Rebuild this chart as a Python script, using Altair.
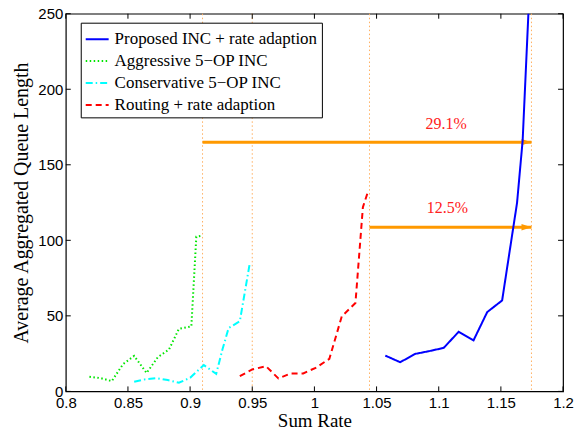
import altair as alt
import pandas as pd

# ---- data ----
series_names = ["Proposed INC + rate adaption", "Aggressive 5\u2212OP INC",
                "Conservative 5\u2212OP INC", "Routing + rate adaption"]
series_colors = ["#0000ff", "#00e600", "#00ffff", "#ff0000"]
series_dashes = [[1, 0], [1.5, 2.5], [7, 3, 1.5, 3], [6, 4]]

proposed_x = [1.057, 1.069, 1.081, 1.092, 1.104, 1.116, 1.128, 1.139, 1.151, 1.163, 1.1675, 1.174]
proposed_y = [23.7, 19.3, 24.8, 26.6, 28.8, 39.4, 33.8, 52.5, 60.2, 124.8, 166, 284]

aggressive_x = [0.819, 0.828, 0.837, 0.846, 0.855, 0.865, 0.874, 0.883, 0.891, 0.901, 0.905, 0.909]
aggressive_y = [9.7, 8.8, 6.8, 18, 23.5, 12.2, 22.6, 27.7, 41.4, 43, 102.4, 103]

conservative_x = [0.855, 0.864, 0.873, 0.882, 0.891, 0.900, 0.911, 0.921, 0.926, 0.931, 0.940, 0.948]
conservative_y = [6.4, 8.0, 8.8, 7.5, 5.7, 9.0, 17.4, 11.6, 27.7, 42, 46.4, 84.8]

routing_x = [0.940, 0.950, 0.961, 0.971, 0.981, 0.991, 1.001, 1.012, 1.022, 1.033, 1.039, 1.043]
routing_y = [10.1, 14.5, 16.7, 8.6, 11.9, 11.9, 15.6, 21.5, 49.6, 58.5, 122, 132]

vline_x = [0.91, 0.95, 1.0443, 1.1746]

arrow_start = [0.91, 1.0443]
arrow_end = [1.1746, 1.1746]
arrow_y = [165, 108.6]
arrow_text = ["29.1%", "12.5%"]
text_x = [1.106, 1.107]
text_y = [177, 121.5]

x_ticks = [0.8, 0.85, 0.9, 0.95, 1.0, 1.05, 1.1, 1.15, 1.2]
y_ticks = [0, 50, 100, 150, 200, 250]

# ---- tables ----
rows = []
for name, xs, ys in zip(series_names,
                        [proposed_x, aggressive_x, conservative_x, routing_x],
                        [proposed_y, aggressive_y, conservative_y, routing_y]):
    for i, (a, b) in enumerate(zip(xs, ys)):
        rows.append({"series": name, "x": a, "y": b, "i": i})
lines_df = pd.DataFrame(rows)
vline_df = pd.DataFrame({"x": vline_x})
arrow_df = pd.DataFrame({"x": arrow_start, "x2": arrow_end, "y": arrow_y})
text_df = pd.DataFrame({"x": text_x, "y": text_y, "t": arrow_text})
xt_df = pd.DataFrame({"x": x_ticks})
yt_df = pd.DataFrame({"y": y_ticks})

W, H = 499, 379

xscale = alt.Scale(domain=[0.8, 1.2], nice=False, zero=False)
yscale = alt.Scale(domain=[0, 250], nice=False, zero=False)
xaxis = alt.Axis(values=x_ticks, format=".2~f", title="Sum Rate", ticks=False,
                 domain=False, grid=False, labelFlush=False, labelPadding=4,
                 titlePadding=1, titleFontSize=19)
yaxis = alt.Axis(values=y_ticks, title="Average Aggregated Queue Length", ticks=False,
                 domain=False, grid=False, labelPadding=3, titlePadding=6)


def X(field="x"):
    return alt.X(f"{field}:Q", scale=xscale, axis=xaxis)


def Y(field="y"):
    return alt.Y(f"{field}:Q", scale=yscale, axis=yaxis)


lines = alt.Chart(lines_df).mark_line(strokeWidth=2, clip=True).encode(
    x=X(), y=Y(),
    order="i:Q",
    color=alt.Color("series:N", scale=alt.Scale(domain=series_names, range=series_colors),
                    legend=alt.Legend(title=None, orient="none", legendX=15, legendY=9,
                                      symbolType="stroke", symbolSize=529,
                                      symbolStrokeWidth=2, labelFont="Liberation Serif",
                                      labelFontSize=17, labelColor="black",
                                      strokeColor="black", fillColor="white",
                                      padding=4, rowPadding=1, labelOffset=5,
                                      labelLimit=400)),
    strokeDash=alt.StrokeDash("series:N",
                              scale=alt.Scale(domain=series_names, range=series_dashes),
                              legend=None),
)

vlines = alt.Chart(vline_df).mark_rule(color="#ffb060", strokeWidth=1,
                                       strokeDash=[1.5, 2.5]).encode(x=X())

arrows = alt.Chart(arrow_df).mark_rule(color="#ff9900", strokeWidth=3).encode(
    x=X(), x2="x2:Q", y=Y())

heads = alt.Chart(arrow_df).mark_point(shape="M0,0 L-2,-0.65 L-2,0.65 Z", filled=True,
                                       color="#ff9900", opacity=1, size=100,
                                       strokeWidth=0).encode(x=X("x2"), y=Y())

labels = alt.Chart(text_df).mark_text(font="Liberation Serif", fontSize=16,
                                      color="#ff2020").encode(x=X(), y=Y(), text="t:N")

xt_bottom = alt.Chart(xt_df).mark_rule(color="black", strokeWidth=1).encode(
    x=X(), y=alt.value(H), y2=alt.value(H - 5))
xt_top = alt.Chart(xt_df).mark_rule(color="black", strokeWidth=1).encode(
    x=X(), y=alt.value(0), y2=alt.value(5))
yt_left = alt.Chart(yt_df).mark_rule(color="black", strokeWidth=1).encode(
    y=Y(), x=alt.value(0), x2=alt.value(5))
yt_right = alt.Chart(yt_df).mark_rule(color="black", strokeWidth=1).encode(
    y=Y(), x=alt.value(W), x2=alt.value(W - 5))

chart = alt.layer(vlines, arrows, heads, labels, lines,
                  xt_bottom, xt_top, yt_left, yt_right).properties(
    width=W, height=H,
    autosize=alt.AutoSizeParams(type="none"),
    padding={"left": 58, "top": 5, "right": 12, "bottom": 38},
).configure_view(stroke="black", strokeWidth=1.2).configure_axis(
    labelFont="Liberation Sans", labelFontSize=15, labelColor="black",
    titleFont="Liberation Serif", titleFontSize=20, titleFontWeight="normal",
    titleColor="black",
)

chart.save("out.html", embed_options={"renderer": "svg", "actions": False})
